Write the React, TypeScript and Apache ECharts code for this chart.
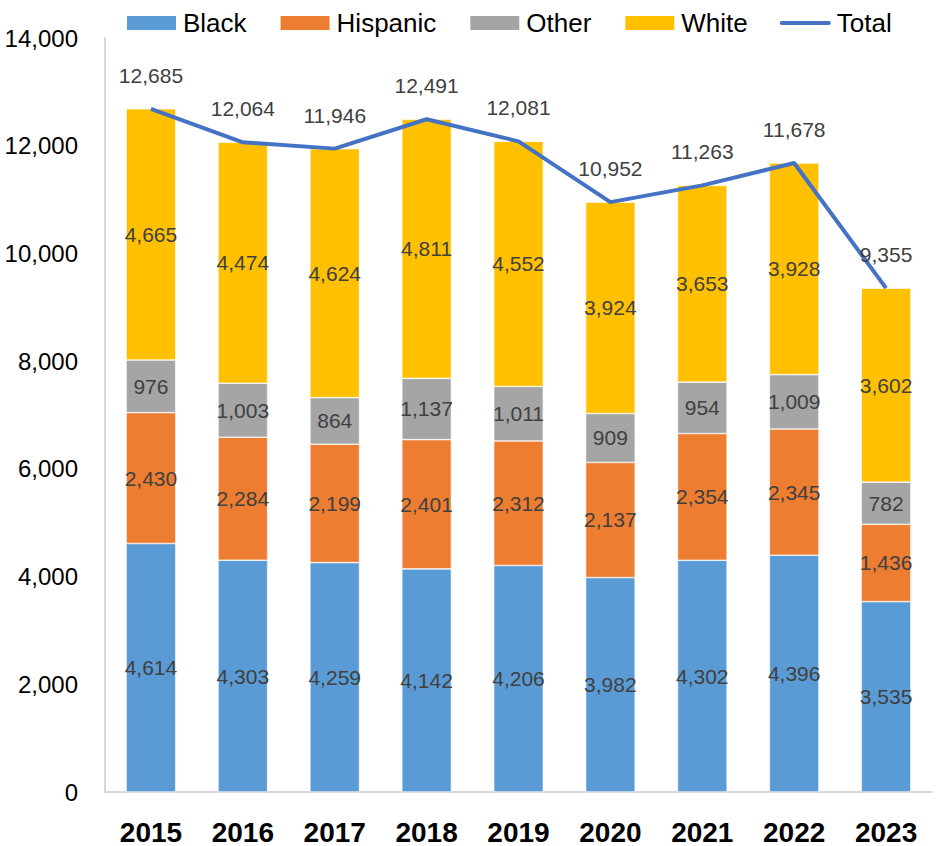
import React, { useEffect, useRef } from "react";
import * as echarts from "echarts";

const years = ["2015", "2016", "2017", "2018", "2019", "2020", "2021", "2022", "2023"];
const black = [4614, 4303, 4259, 4142, 4206, 3982, 4302, 4396, 3535];
const hispanic = [2430, 2284, 2199, 2401, 2312, 2137, 2354, 2345, 1436];
const other = [976, 1003, 864, 1137, 1011, 909, 954, 1009, 782];
const white = [4665, 4474, 4624, 4811, 4552, 3924, 3653, 3928, 3602];
const total = [12685, 12064, 11946, 12491, 12081, 10952, 11263, 11678, 9355];

const FONT = "'Liberation Sans', Arial, sans-serif";
const fmt = (v: number) => v.toLocaleString("en-US");
const LINE_ICON = "path://M0,0 M2,6 L49,6 A2,2 0 0 1 49,10 L2,10 A2,2 0 0 1 2,6 Z M51,16";

export default function App() {
  const ref = useRef<HTMLDivElement>(null);
  useEffect(() => {
    document.body.style.margin = "0";
    const chart = echarts.init(ref.current!, null, { renderer: "svg" });
    const barLabel = {
      show: true,
      position: "inside" as const,
      color: "#404040",
      fontSize: 21,
      fontFamily: FONT,
      formatter: (p: any) => fmt(p.value),
    };
    const mkBar = (name: string, data: number[], color: string) => ({
      name,
      type: "bar",
      stack: "s",
      data,
      barWidth: "54%",
      itemStyle: { color, borderColor: "#ffffff", borderWidth: 0.6 },
      label: barLabel,
    });
    chart.setOption({
      animation: false,
      textStyle: { fontFamily: FONT },
      legend: {
        top: 5,
        left: 120,
        itemWidth: 51,
        itemHeight: 16,
        itemGap: 32,
        symbolKeepAspect: false,
        textStyle: { fontSize: 26, color: "#000", fontFamily: FONT, padding: [0, 0, 0, 1] },
        data: [
          { name: "Black", icon: "rect" },
          { name: "Hispanic", icon: "rect" },
          { name: "Other", icon: "rect" },
          { name: "White", icon: "rect" },
          { name: "Total", icon: LINE_ICON, itemStyle: { color: "#4472C4" } },
        ],
      },
      grid: { left: 105, right: 5, top: 38, bottom: 54 },
      xAxis: {
        type: "category",
        data: years,
        axisTick: { show: false },
        axisLine: { lineStyle: { color: "#d9d9d9", width: 2 } },
        axisLabel: { fontSize: 28, fontWeight: "bold", color: "#000", margin: 26, fontFamily: FONT },
      },
      yAxis: {
        type: "value",
        min: 0,
        max: 14000,
        interval: 2000,
        splitLine: { show: false },
        axisLine: { show: true, lineStyle: { color: "#d9d9d9", width: 2 } },
        axisLabel: { fontSize: 24, color: "#000", margin: 27, formatter: (v: number) => fmt(v), fontFamily: FONT },
      },
      series: [
        mkBar("Black", black, "#5B9BD5"),
        mkBar("Hispanic", hispanic, "#ED7D31"),
        mkBar("Other", other, "#A5A5A5"),
        mkBar("White", white, "#FFC000"),
        {
          name: "Total",
          type: "line",
          data: total,
          symbol: "circle",
          symbolSize: 0,
          showSymbol: true,
          lineStyle: { color: "#4472C4", width: 4 },
          itemStyle: { color: "#4472C4" },
          label: {
            show: true,
            position: "top",
            distance: 23,
            color: "#404040",
            fontSize: 21,
            fontFamily: FONT,
            formatter: (p: any) => fmt(p.value),
          },
          z: 5,
        },
      ],
    });
    return () => chart.dispose();
  }, []);
  return <div ref={ref} style={{ width: 937, height: 846 }} />;
}
